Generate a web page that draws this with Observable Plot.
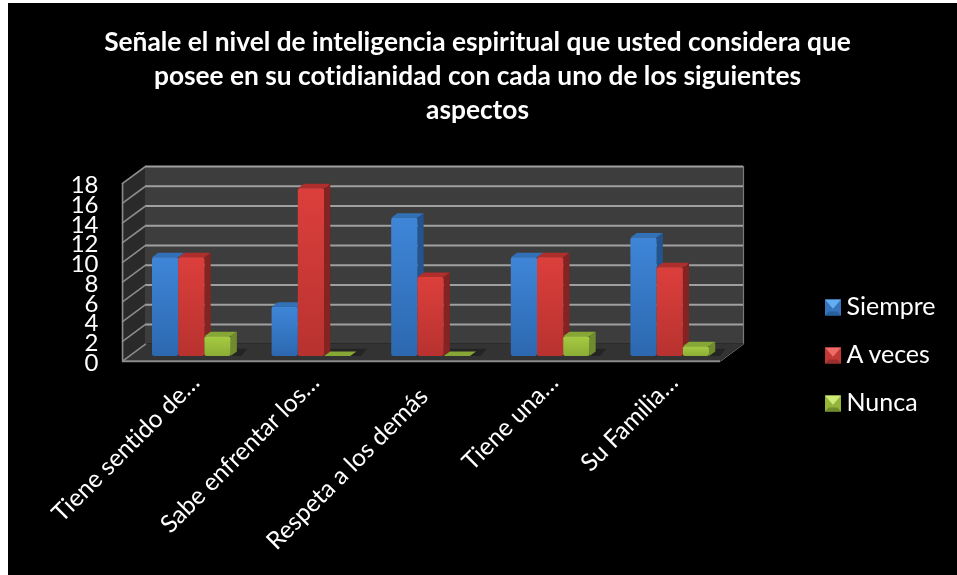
<!DOCTYPE html>
<html lang="es">
<head>
<meta charset="utf-8">
<script src="https://cdn.jsdelivr.net/npm/d3@7"></script>
<script src="https://cdn.jsdelivr.net/npm/@observablehq/plot@0.6"></script>
<style>
html,body{margin:0;padding:0;background:#fff;width:957px;height:575px;overflow:hidden}
#sheet{position:absolute;left:8px;top:3px;right:0;bottom:0;width:949px;height:572px;background:#000}
#chart{position:absolute;left:0;top:0}
</style>
</head>
<body>
<div id="sheet"></div>
<div id="chart"></div>
<script>
const titleLines = [
  "Señale el nivel de inteligencia espiritual que usted considera que",
  "posee en su cotidianidad con cada uno de los siguientes",
  "aspectos"
];
const categories = ["Tiene sentido de…", "Sabe enfrentar los…", "Respeta a los demás", "Tiene una…", "Su Familia…"];
const siempre = [10, 5, 14, 10, 12];
const aVeces  = [10, 17, 8, 10, 9];
const nunca   = [2, 0, 0, 2, 1];
const yTicks  = [0, 2, 4, 6, 8, 10, 12, 14, 16, 18];
const seriesNames = ["Siempre", "A veces", "Nunca"];
const seriesValues = [siempre, aVeces, nunca];

const fonts = "Lato, Carlito, Calibri, sans-serif";
const palette = [
  {id:"b", hi:"#3f86d8", lo:"#2c68b0", side:"#24548f", top:"#3270b8", light:"#63aef0", mid:"#3674bd", dark:"#2a5f9e"},
  {id:"r", hi:"#dc3f3c", lo:"#b8322f", side:"#842321", top:"#b02f2c", light:"#f06a66", mid:"#c23835", dark:"#97302d"},
  {id:"g", hi:"#a6cb42", lo:"#8bad35", side:"#6f8b2d", top:"#86a636", light:"#d0ea7a", mid:"#93b63a", dark:"#6f8b2d"}
];

// oblique projection expressed in scale units
const barW = 0.2192, first = -0.4415, baseV = -1.25;
const depthX = 0.052, depthV = 0.46;
const wallX = -0.192, wallV = -1.72;
const L = -0.5, R = 4.5, T = 18;

const defs = () => {
  const d = d3.create("svg:defs");
  palette.forEach(p => {
    const g = d.append("linearGradient").attr("id", "grad-" + p.id).attr("x1", 0).attr("y1", 0).attr("x2", 0).attr("y2", 1);
    g.append("stop").attr("offset", "0%").attr("stop-color", p.hi);
    g.append("stop").attr("offset", "100%").attr("stop-color", p.lo);
  });
  return d.node();
};

const bars = seriesValues.map((vals, s) => vals.map((v, i) => {
  const x1 = i + first + s * barW, x2 = x1 + barW, top = baseV + v;
  return {i, s, v, x1, x2, base: baseV, top};
}));

function barMarks(s) {
  const p = palette[s], rows = bars[s];
  const side = rows.flatMap(b => [
    {z:b.i, x:b.x2, y1:b.base, y2:b.top},
    {z:b.i, x:b.x2+depthX, y1:b.base+depthV, y2:b.top+depthV}
  ]);
  const cap = rows.flatMap(b => [
    {z:b.i, x1:b.x1, x2:b.x2, y:b.top},
    {z:b.i, x1:b.x1+depthX, x2:b.x2+depthX, y:b.top+depthV}
  ]);
  return [
    Plot.areaY(side, {x:"x", y1:"y1", y2:"y2", z:"z", fill:p.side}),
    Plot.areaX(cap, {x1:"x1", x2:"x2", y:"y", z:"z", fill:p.top}),
    Plot.rect(rows, {x1:"x1", x2:"x2", y1:"base", y2:"top", fill:`url(#grad-${p.id})`, rx:2})
  ];
}

const sideGrid = yTicks.map(t => [{x:L, y:t, t}, {x:L+wallX, y:t+wallV, t}]).flat();
const floor = [{x1:L, x2:R, y:0}, {x1:L+wallX, x2:R+wallX, y:wallV}];
const leftWall = [{x:L, y1:0, y2:T}, {x:L+wallX, y1:wallV, y2:T+wallV}];
const floorShade = categories.flatMap((c, i) => [
  {z:i, x1:i+first, x2:i+first+3*barW+0.09, y:baseV},
  {z:i, x1:i+first+depthX, x2:i+first+3*barW+0.14, y:baseV+0.75}
]);

const pyramid = half => ({draw(ctx){
  ctx.moveTo(-half,-half); ctx.lineTo(half,-half); ctx.lineTo(0,half*0.15); ctx.closePath();
}});
const square = half => ({draw(ctx){
  ctx.moveTo(-half,-half); ctx.lineTo(half,-half); ctx.lineTo(half,half); ctx.lineTo(-half,half); ctx.closePath();
}});
const lowerPart = half => ({draw(ctx){
  ctx.moveTo(-half,half); ctx.lineTo(half,half); ctx.lineTo(half*0.55,half*0.5); ctx.lineTo(-half*0.55,half*0.5); ctx.closePath();
}});

const frameLeft = 145, frameTop = 166;
const legendMarks = seriesNames.flatMap((name, s) => {
  const p = palette[s];
  const at = {frameAnchor:"top-left", dx: 832.5-frameLeft, dy: 307+48*s-frameTop};
  return [
    Plot.dot([name], {...at, symbol:square(8), fill:p.mid, r:8}),
    Plot.dot([name], {...at, symbol:lowerPart(8), fill:p.dark, r:8}),
    Plot.dot([name], {...at, symbol:pyramid(8), fill:p.light, r:8}),
    Plot.text([name], {frameAnchor:"top-left", dx:846-frameLeft, dy:306+48*s-frameTop, text:d=>d, fill:"#fff", fontSize:25, textAnchor:"start", lineAnchor:"middle", fontFamily:fonts})
  ];
});

// the only label not cut with an ellipsis sits further along its own slant
const labelSlide = [0, 0, 1, 0, 0];

const chart = Plot.plot({
  width:957, height:575,
  marginLeft:145, marginRight:214, marginTop:166, marginBottom:231.3,
  style:{background:"transparent", filter:"blur(0.35px)", fontFamily:fonts, fontVariantLigatures:"none"},
  x:{domain:[L,R], axis:null},
  y:{domain:[0,T], axis:null},
  marks:[
    defs,
    Plot.rect([0], {x1:L, x2:R, y1:0, y2:T, fill:"#3d3d3d"}),
    Plot.areaY(leftWall, {x:"x", y1:"y1", y2:"y2", fill:"#2a2a2a"}),
    Plot.areaX(floor, {x1:"x1", x2:"x2", y:"y", fill:"#333333"}),
    Plot.ruleY(yTicks.slice(1), {x1:L, x2:R, stroke:"#a0a0a0", strokeWidth:2}),
    Plot.line(sideGrid, {x:"x", y:"y", z:"t", stroke:"#8c8c8c", strokeWidth:1.6}),
    Plot.ruleX([L+wallX], {y1:wallV, y2:T+wallV, stroke:"#8c8c8c", strokeWidth:1.6}),
    Plot.ruleX([R], {y1:0, y2:T, stroke:"#7a7a7a", strokeWidth:1.2}),
    Plot.ruleY([wallV], {x1:L+wallX, x2:R+wallX, stroke:"#8c8c8c", strokeWidth:2}),
    Plot.line([{x:R, y:0}, {x:R+wallX, y:wallV}], {x:"x", y:"y", stroke:"#6f6f6f", strokeWidth:1}),
    Plot.areaX(floorShade, {x1:"x1", x2:"x2", y:"y", z:"z", fill:"#242424"}),
    ...barMarks(0), ...barMarks(1), ...barMarks(2),
    Plot.axisY({anchor:"left", ticks:yTicks, tickSize:0, tickPadding:47, dy:19, fontSize:24, fill:"#fff", label:null, fontFamily:fonts, tickFormat:d=>String(d)}),
    Plot.text(categories, {x:(d,i)=>i-0.082-0.09*labelSlide[i], y:(d,i)=>-3.48-1.4*labelSlide[i], text:d=>d, rotate:-45, textAnchor:"end", lineAnchor:"middle", fill:"#fff", fontSize:24.5, fontFamily:fonts}),
    ...titleLines.map((line,k)=>Plot.text([line], {frameAnchor:"top", dx:33, dy:42+34*k-frameTop, text:d=>d, fill:"#fff", fontSize:26.3, fontWeight:"bold", lineAnchor:"middle", fontFamily:fonts})),
    ...legendMarks
  ]
});
document.getElementById("chart").appendChild(chart);
</script>
</body>
</html>
